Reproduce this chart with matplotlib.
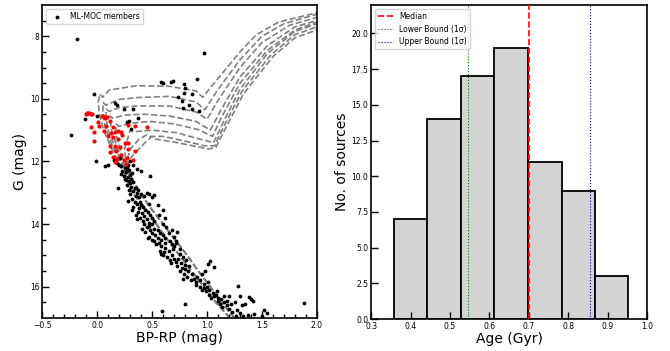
import numpy as np
import matplotlib.pyplot as plt

# ---- CMD data (BP-RP, G) ----
members_x = [
    -0.18, 0.97, -0.235, -0.03, -0.11, -0.007, 0.905, 0.58, 0.60, 0.67, 0.69, 0.79, 0.80, 0.79, 0.86,
    0.74, 0.77, 0.78, 0.84, 0.86, 0.93, 0.16, 0.18, 0.24, 0.33, 0.37, 0.29, 0.00, 0.485, 0.19, 0.07,
    0.27, 0.31, 0.15, 0.18, 0.21, 0.30, 0.33, 0.36, 0.40, 0.35, 0.10,
    0.22, 0.25, 0.27, 0.23, 0.26, 0.29, 0.24, 0.28, 0.30, 0.26, 0.31, 0.27, 0.20, 0.29, 0.25, 0.32,
    0.22, 0.28, 0.33, 0.30,
    0.27, 0.31, 0.34, 0.29, 0.33, 0.36, 0.30, 0.35, 0.38, 0.32, 0.40, 0.37, 0.28, 0.43, 0.47, 0.50,
    0.45, 0.52, 0.34, 0.39,
    0.36, 0.40, 0.33, 0.38, 0.42, 0.44, 0.37, 0.41, 0.46, 0.35, 0.43, 0.48, 0.39, 0.45, 0.50, 0.55,
    0.60, 0.47, 0.32, 0.52, 0.42, 0.36, 0.47, 0.62, 0.56,
    0.43, 0.47, 0.50, 0.45, 0.52, 0.48, 0.55, 0.44, 0.50, 0.57, 0.53, 0.47, 0.60, 0.55, 0.50, 0.58,
    0.62, 0.65, 0.68, 0.70, 0.72, 0.63, 0.60, 0.46, 0.52, 0.56, 0.41, 0.66, 0.73, 0.68,
    0.54, 0.58, 0.62, 0.57, 0.61, 0.65, 0.60, 0.64, 0.68, 0.70, 0.66, 0.72, 0.75, 0.74, 0.69, 0.78,
    0.62, 0.70, 0.75, 0.81, 0.58, 0.67, 0.76, 0.80, 0.72,
    0.73, 0.77, 0.80, 0.75, 0.83, 0.79, 0.86, 0.82, 0.88, 0.85, 0.91, 0.78, 0.90, 0.94, 1.01, 1.03,
    1.06, 0.98, 0.84, 0.95,
    0.90, 0.94, 0.97, 1.00, 0.95, 1.02, 0.99, 1.05, 1.02, 1.08, 1.06, 1.10, 1.13, 1.04, 1.01, 1.15,
    1.18, 0.97, 1.09, 1.28, 1.20, 1.12,
    1.10, 1.15, 1.18, 1.20, 1.14, 1.22, 1.25, 1.23, 1.27, 1.30, 1.26, 1.32, 1.35, 1.38, 1.40, 1.42,
    1.30, 1.33, 1.37, 1.43, 1.52, 1.55, 1.50, 1.88, 0.80, 0.59,
]
members_g = [
    8.10, 8.52, 11.15, 9.83, 10.63, 11.98, 9.37, 9.46, 9.48, 9.46, 9.43, 9.53, 9.64, 9.82, 9.85,
    9.93, 10.06, 10.28, 10.20, 10.33, 10.38, 10.12, 10.20, 10.33, 10.33, 10.60, 10.70, 10.56, 12.48, 12.86, 12.14,
    10.75, 10.95, 11.95, 12.05, 11.90, 12.00, 12.12, 12.25, 12.30, 12.85, 12.10,
    12.15, 12.20, 12.18, 12.30, 12.35, 12.28, 12.45, 12.50, 12.42, 12.60, 12.55, 12.25, 12.10, 12.62, 12.55, 12.38,
    12.40, 12.12, 12.65, 12.70,
    12.75, 12.80, 12.85, 12.90, 12.95, 13.00, 13.05, 13.10, 13.15, 13.20, 13.05, 12.90, 13.25, 13.10, 13.05, 13.15,
    13.00, 13.08, 13.30, 13.30,
    13.35, 13.40, 13.45, 13.50, 13.45, 13.55, 13.60, 13.65, 13.62, 13.70, 13.75, 13.70, 13.80, 13.85, 13.80, 13.40,
    13.55, 13.35, 13.55, 13.90, 13.90, 13.85, 13.95, 13.80, 13.70,
    14.00, 14.05, 14.00, 14.10, 14.15, 14.20, 14.20, 14.25, 14.30, 14.30, 14.35, 14.40, 14.35, 14.45, 14.50, 14.50,
    14.45, 14.30, 14.20, 14.40, 14.60, 14.10, 14.00, 14.45, 14.55, 14.60, 14.15, 14.55, 14.25, 14.65,
    14.65, 14.70, 14.75, 14.85, 14.90, 14.85, 15.00, 15.05, 15.00, 15.10, 15.15, 15.20, 14.95, 15.10, 14.80, 15.05,
    14.60, 14.70, 14.80, 15.15, 14.95, 15.25, 15.25, 15.30, 14.55,
    15.35, 15.40, 15.45, 15.50, 15.50, 15.60, 15.60, 15.70, 15.75, 15.80, 15.70, 15.75, 15.85, 15.80, 15.28, 15.19,
    15.38, 15.49, 15.35, 15.60,
    15.95, 16.00, 16.05, 16.00, 16.10, 16.10, 16.15, 16.20, 16.25, 16.25, 16.30, 16.35, 16.40, 16.35, 15.86, 16.30,
    16.45, 15.92, 16.15, 15.99, 16.30, 16.55,
    16.45, 16.50, 16.60, 16.70, 16.65, 16.55, 16.50, 16.80, 16.75, 16.85, 16.95, 16.60, 16.55, 16.34, 16.40, 16.45,
    16.30, 16.92, 16.90, 16.88, 16.75, 16.85, 16.95, 16.52, 16.55, 16.77,
]

# turn-off stars used for the age estimate
turnoff_x = [-0.10, -0.09, -0.08, -0.07, -0.06, -0.05, -0.056, -0.03, -0.03, 0.01, 0.04, 0.07, 0.08, 0.06,
             0.055, 0.09, 0.115, 0.145, 0.166, 0.145, 0.12, 0.16, 0.19, 0.115, 0.145, 0.16, 0.18, 0.22,
             0.24, 0.27, 0.25, 0.28, 0.28, 0.205, 0.34, 0.33, 0.02, 0.19, 0.22, 0.45, 0.34, 0.28, 0.10,
             0.13, 0.23, 0.17, 0.26]
turnoff_g = [10.47, 10.45, 10.46, 10.44, 10.47, 10.48, 10.90, 11.07, 11.34, 10.73, 10.54, 10.60, 10.86, 11.02,
             10.54, 10.57, 10.70, 10.91, 11.07, 11.23, 11.50, 11.50, 11.29, 11.71, 11.87, 12.03, 11.93, 11.80,
             11.96, 11.90, 11.40, 11.40, 11.60, 11.53, 11.66, 11.96, 10.86, 11.02, 11.07, 10.90, 10.86, 10.84, 11.20,
             11.10, 11.15, 11.65, 12.08]

# isochrones: shared lower main sequence (two variants) + individual upper parts
ms_g = [17.0, 16.5, 16.0, 15.5, 15.0, 14.5, 14.0, 13.5, 13.0, 12.5]
ms_a_x = [1.21, 1.08, 0.97, 0.86, 0.75, 0.64, 0.54, 0.44, 0.32, 0.26]
ms_b_x = [1.25, 1.13, 1.03, 0.92, 0.82, 0.71, 0.60, 0.49, 0.39, 0.31]

iso_upper = [
    ([0.19, 0.12, 0.06, 0.02, 0.01, 0.025, 0.05, 0.11, 0.36, 0.66, 0.90, 0.96, 1.10, 1.30, 1.45, 1.65, 2.0],
     [12.0, 11.5, 11.0, 10.5, 10.1, 9.85, 9.95, 9.72, 9.58, 9.60, 9.75, 9.95, 9.35, 8.5, 7.95, 7.55, 7.25]),
    ([0.21, 0.14, 0.08, 0.05, 0.055, 0.08, 0.20, 0.36, 0.66, 0.90, 0.98, 1.10, 1.30, 1.50, 1.70, 2.0],
     [12.0, 11.5, 11.0, 10.5, 10.12, 10.2, 10.02, 9.96, 9.92, 10.1, 10.35, 9.7, 8.75, 8.0, 7.6, 7.3]),
    ([0.22, 0.16, 0.10, 0.08, 0.085, 0.11, 0.20, 0.36, 0.66, 0.90, 1.00, 1.10, 1.30, 1.50, 1.75, 2.0],
     [12.0, 11.5, 11.0, 10.6, 10.33, 10.4, 10.28, 10.23, 10.23, 10.42, 10.65, 10.05, 9.0, 8.2, 7.65, 7.4]),
    ([0.23, 0.18, 0.13, 0.115, 0.14, 0.25, 0.42, 0.66, 0.90, 1.03, 1.12, 1.30, 1.55, 1.80, 2.0],
     [12.0, 11.5, 11.0, 10.55, 10.62, 10.52, 10.49, 10.55, 10.72, 11.0, 10.4, 9.3, 8.3, 7.7, 7.5]),
    ([0.24, 0.20, 0.17, 0.175, 0.20, 0.30, 0.48, 0.70, 0.92, 1.05, 1.13, 1.30, 1.55, 1.80, 2.0],
     [12.0, 11.5, 11.1, 10.81, 10.88, 10.78, 10.72, 10.8, 10.98, 11.2, 10.6, 9.5, 8.45, 7.8, 7.55]),
    ([0.26, 0.25, 0.28, 0.30, 0.33, 0.50, 0.72, 0.95, 1.06, 1.14, 1.30, 1.55, 1.80, 2.0],
     [12.0, 11.6, 11.25, 11.0, 11.05, 11.0, 11.08, 11.3, 11.4, 10.8, 9.7, 8.55, 7.85, 7.6]),
    ([0.27, 0.30, 0.38, 0.45, 0.48, 0.60, 0.80, 0.98, 1.07, 1.15, 1.32, 1.58, 1.80, 2.0],
     [12.0, 11.6, 11.3, 11.15, 11.2, 11.2, 11.35, 11.5, 11.5, 10.9, 9.75, 8.6, 7.95, 7.7]),
    ([0.28, 0.35, 0.45, 0.50, 0.52, 0.70, 0.90, 1.02, 1.08, 1.16, 1.33, 1.60, 1.80, 2.0],
     [12.0, 11.7, 11.35, 11.2, 11.28, 11.38, 11.52, 11.6, 11.55, 11.0, 9.85, 8.65, 8.05, 7.8]),
]

# ---- age histogram ----
age_edges = [0.357, 0.442, 0.527, 0.612, 0.698, 0.783, 0.867, 0.952]
age_counts = [7, 14, 17, 19, 11, 9, 3]
age_median = 0.700
age_lower = 0.546
age_upper = 0.854

fs_tick = 5.5
fig = plt.figure(figsize=(6.7, 3.51), dpi=100)

# Left: CMD
ax1 = fig.add_axes([0.063, 0.094, 0.410, 0.892])
for i, (ux, ug) in enumerate(iso_upper):
    msx = ms_a_x if i % 2 == 0 else ms_b_x
    ax1.plot(msx + ux, ms_g + ug, color='gray', ls='--', lw=1.2, zorder=1)
ax1.scatter(members_x, members_g, s=3, color='black', zorder=3, label='ML-MOC members')
ax1.scatter(turnoff_x, turnoff_g, s=4, color='red', zorder=4)
ax1.set_xlim(-0.5, 2.0)
ax1.set_ylim(17.0, 7.0)
ax1.set_xticks([-0.5, 0.0, 0.5, 1.0, 1.5, 2.0])
ax1.set_xticks(np.arange(-0.5, 2.01, 0.1), minor=True)
ax1.set_yticks([8, 10, 12, 14, 16])
ax1.set_yticks(np.arange(7.5, 17.0, 0.5), minor=True)
ax1.set_xlabel('BP-RP (mag)', fontsize=10, labelpad=1)
ax1.set_ylabel('G (mag)', fontsize=10, labelpad=2)
ax1.legend(loc='upper left', fontsize=fs_tick, markerscale=1.0, handletextpad=0.8,
           borderpad=0.4, framealpha=0.8)

# Right: age histogram
ax2 = fig.add_axes([0.554, 0.091, 0.412, 0.895])
ax2.hist(age_edges[:-1], bins=age_edges, weights=age_counts, color='lightgray',
         edgecolor='black', lw=1.3, zorder=1)
ax2.axvline(age_median, color='red', ls='--', lw=1.2, label='Median', zorder=3)
ax2.axvline(age_lower, color='green', ls=':', lw=0.8, label='Lower Bound (1σ)', zorder=3)
ax2.axvline(age_upper, color='blue', ls=':', lw=0.8, label='Upper Bound (1σ)', zorder=3)
ax2.set_xlim(0.3, 1.0)
ax2.set_ylim(0, 22)
ax2.set_xticks(np.arange(0.3, 1.01, 0.1))
ax2.set_yticks(np.arange(0, 20.1, 2.5))
ax2.set_xlabel('Age (Gyr)', fontsize=10, labelpad=1)
ax2.set_ylabel('No. of sources', fontsize=10, labelpad=2)
ax2.legend(loc='upper left', fontsize=fs_tick, handlelength=2.0, borderpad=0.4, framealpha=0.8)

for ax in (ax1, ax2):
    ax.tick_params(which='major', direction='in', length=5, width=1, labelsize=fs_tick, pad=2)
    ax.tick_params(which='minor', direction='in', length=3, width=1)
    ax.tick_params(top=False, right=False)
    ax.set_axisbelow(False)
    for sp in ax.spines.values():
        sp.set_linewidth(1.2)

fig.savefig('out.png', dpi=100)
